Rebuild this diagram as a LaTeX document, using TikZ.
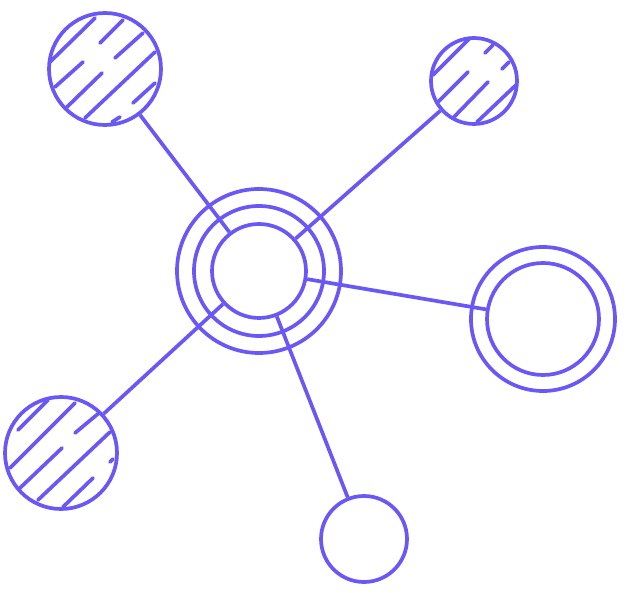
\documentclass[tikz,border=0pt]{standalone}
\begin{document}
\begin{tikzpicture}[x=1pt,y=-1pt,
  ink/.style={draw=netblue,line width=3.7pt},
  ring/.style={ink,circle,inner sep=0pt,minimum size=#1},
  hatch/.style={ink,line cap=round}]
\definecolor{netblue}{RGB}{106,88,246}
\useasboundingbox (0,0) rectangle (627,593);
% central rings
\node[ring=164pt] (c3) at (259,271) {};
\node[ring=130pt] (c2) at (259,271) {};
\node[ring=94pt] (c) at (259,271) {};
% satellites
\node[ring=112pt] (tl) at (105,69) {};
\node[ring=86pt] (tr) at (474,81) {};
\node[ring=144pt] (ro) at (543,319) {};
\node[ring=112pt] (r) at (543,319) {};
\node[ring=112pt] (bl) at (61,453) {};
\node[ring=86pt] (b) at (364,539) {};
% connectors
\draw[ink] (c) -- (tl);
\draw[ink] (c) -- (tr);
\draw[ink] (c) -- (r);
\draw[ink] (c) -- (bl);
\draw[ink] (c) -- (b);
% hatching top-left
\draw[hatch] (50,62) -- (95,18);
\draw[hatch] (55,87) -- (83,62);
\draw[hatch] (100,43) -- (123,20);
\draw[hatch] (67,107) -- (102,73);
\draw[hatch] (115,58) -- (143,33);
\draw[hatch] (85,118) -- (155,52);
\draw[hatch] (112,122) -- (120,117);
\draw[hatch] (133,103) -- (155,83);
% hatching top-right
\draw[hatch] (433,75) -- (470,38);
\draw[hatch] (485,53) -- (493,45);
\draw[hatch] (438,102) -- (468,72);
\draw[hatch] (502,69) -- (509,62);
\draw[hatch] (453,118) -- (488,82);
\draw[hatch] (477,122) -- (516,85);
% hatching bottom-left
\draw[hatch] (18,430) -- (48,400);
\draw[hatch] (10,468) -- (75,403);
\draw[hatch] (75,433) -- (99,413);
\draw[hatch] (20,488) -- (62,448);
\draw[hatch] (110,462) -- (113,459);
\draw[hatch] (38,500) -- (110,432);
\draw[hatch] (63,507) -- (93,478);
\end{tikzpicture}
\end{document}
